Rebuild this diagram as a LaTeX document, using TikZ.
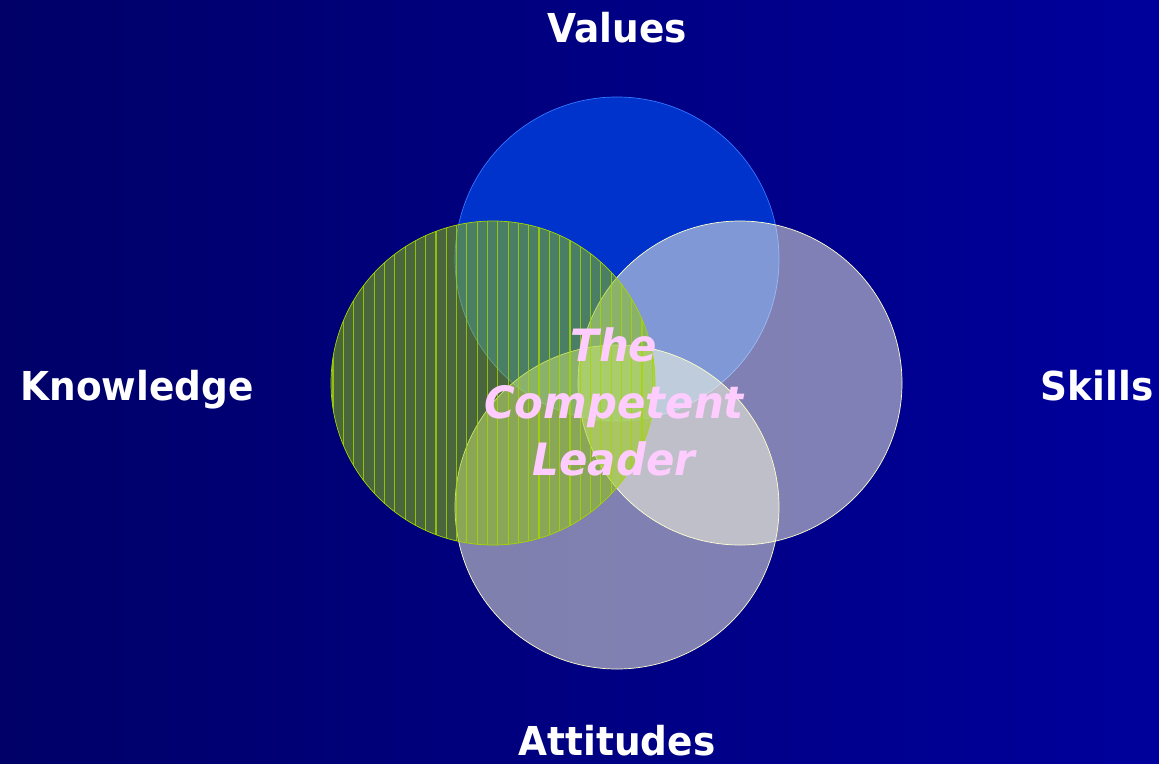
\documentclass[tikz,border=0pt]{standalone}
\usepackage{fontspec}
\usepackage{tikz}
\newfontfamily\labelfont[FakeStretch=0.94]{DejaVu Sans}
\definecolor{bgleft}{HTML}{000068}
\definecolor{bgright}{HTML}{00009C}
\definecolor{valuesfill}{HTML}{0033CC}
\definecolor{valuesline}{HTML}{3377FF}
\definecolor{creamfill}{HTML}{FFFFE0}
\definecolor{creamline}{HTML}{FFFFCC}
\definecolor{leaffill}{HTML}{94CC00}
\definecolor{leafline}{HTML}{A6D600}
\definecolor{leaderpink}{HTML}{FFCCFF}
\tikzset{
  ring/.style={
    circle,
    minimum size=9.72cm,
    inner sep=0pt,
    line width=0.6pt
  },
  values ring/.style={
    ring,
    draw=valuesline,
    fill=valuesfill
  },
  cream ring/.style={
    ring,
    draw=creamline,
    fill=creamfill,
    fill opacity=0.5
  },
  leaf ring/.style={
    ring,
    draw=leafline,
    fill=leaffill,
    fill opacity=0.5,
    path picture={
      \foreach \i in {0,...,31}
        \draw[stripe] ([xshift=0.06cm+\i*0.309cm]path picture bounding box.south west)
          -- ([xshift=0.06cm+\i*0.309cm]path picture bounding box.north west);
    }
  },
  stripe/.style={
    draw=leafline,
    draw opacity=0.8,
    line width=1pt
  },
  side label/.style={
    text=white,
    anchor=base,
    inner sep=0pt,
    font=\labelfont\bfseries\fontsize{34}{40}\selectfont
  },
  leader/.style={
    text=leaderpink,
    align=center,
    inner sep=0pt,
    font=\labelfont\bfseries\itshape\fontsize{38}{48.5}\selectfont
  }
}

\begin{document}
\begin{tikzpicture}[x=0.03cm, y=-0.03cm]
  % Background
  \shade[left color=bgleft, right color=bgright] (0, 0) rectangle (1159, 764);
  \useasboundingbox (0, 0) rectangle (1159, 764);

  % Rings
  \node[values ring] (values) at (617, 259) {};
  \node[cream ring] (skills) at (740, 383) {};
  \node[cream ring] (attitudes) at (617, 507) {};
  \node[leaf ring] (knowledge) at (493, 383) {};

  % Labels
  \node[side label] (values label) at (617, 43) {Values};
  \node[side label] (knowledge label) at (137, 400) {Knowledge};
  \node[side label] (skills label) at (1097, 400) {Skills};
  \node[side label] (attitudes label) at (617, 755) {Attitudes};

  % Centre
  \node[leader] (leader) at (614, 402) {The\\Competent\\Leader};
\end{tikzpicture}
\end{document}
